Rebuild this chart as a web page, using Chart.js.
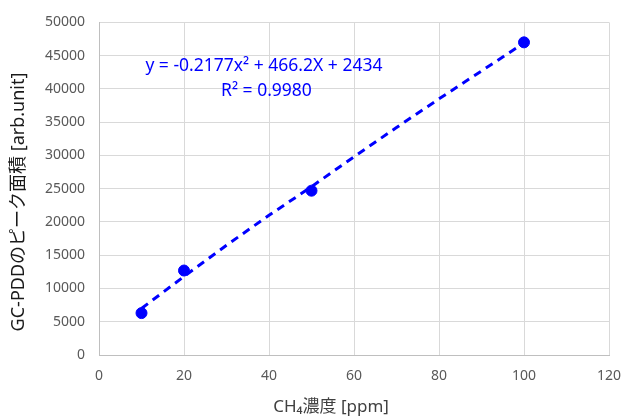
<!DOCTYPE html>
<html>
<head>
<meta charset="utf-8">
<script src="https://cdn.jsdelivr.net/npm/chart.js@4"></script>
<style>
  body { margin: 0; background: #fff; }
  #wrap { width: 623px; height: 419px; }
</style>
</head>
<body>
<div id="wrap"><canvas id="chartPdd" width="623" height="419"></canvas></div>
<script>
// measured points
const concPpm = [10, 20, 50, 100]
const peakArea = [6300, 12700, 24700, 47000]
// dashed trend line
const trendX = [10, 20, 30, 40, 50, 60, 70, 80, 90, 100]
const trendY = [7000, 11800, 16500, 21000, 25300, 29800, 34200, 38500, 42700, 46900]
const eqLines = ['y = -0.2177x² + 466.2X + 2434', 'R² = 0.9980']
const xTitle = 'CH₄濃度 [ppm]'
const yTitle = 'GC-PDDのピーク面積 [arb.unit]'

const blue = '#0000ff'
const mixFont = "'Noto Sans', 'Noto Sans CJK JP', sans-serif"

const eqLabel = {
    id: 'eqLabel',
    afterDatasetsDraw(chart) {
        const xs = chart.scales.x, ys = chart.scales.y, ctx = chart.ctx
        ctx.save()
        ctx.fillStyle = blue
        ctx.font = "17.5px " + mixFont
        ctx.textAlign = 'center'
        ctx.textBaseline = 'middle'
        ctx.fillText(eqLines[0], xs.getPixelForValue(38.8), ys.getPixelForValue(43400))
        ctx.fillText(eqLines[1], xs.getPixelForValue(39.4), ys.getPixelForValue(39700))
        // axis titles sit a little off centre in the original
        ctx.fillStyle = '#404040'
        ctx.font = "17px " + mixFont
        ctx.fillText(xTitle, xs.getPixelForValue(54.6), 407)
        ctx.fillStyle = '#1a1a1a'
        ctx.font = "18px " + mixFont
        ctx.translate(19, ys.getPixelForValue(23000))
        ctx.rotate(-Math.PI / 2)
        ctx.fillText(yTitle, 0, 0)
        ctx.restore()
    }
}

var ctxPdd = document.getElementById('chartPdd').getContext('2d');
var chartPdd = new Chart(ctxPdd, {
    type: 'scatter',
    data: {
        datasets: [{
            data: trendX.map((x, i) => ({ x: x, y: trendY[i] })),
            showLine: true,
            borderColor: blue,
            borderWidth: 3,
            borderDash: [8, 6],
            pointRadius: 0,
            fill: false
        }, {
            data: concPpm.map((x, i) => ({ x: x, y: peakArea[i] })),
            backgroundColor: blue,
            borderColor: blue,
            pointRadius: 5.5,
            pointHoverRadius: 5.5
        }]
    },
    options: {
        responsive: false,
        animation: false,
        layout: { padding: { top: 21, right: 14, left: 0, bottom: 0 } },
        plugins: { legend: { display: false }, tooltip: { enabled: false } },
        scales: {
            x: {
                type: 'linear',
                min: 0, max: 120,
                afterFit: s => { s.height = 64; s.paddingRight = 0; s.paddingLeft = 0 },
                ticks: { stepSize: 20, color: '#595959', font: { size: 14, family: mixFont }, padding: 13, callback: v => String(v) },
                grid: { color: '#d9d9d9', lineWidth: 1, drawTicks: false },
                border: { color: '#bfbfbf' }
            },
            y: {
                min: 0, max: 50000,
                afterFit: s => { s.width = 99 },
                ticks: { stepSize: 5000, color: '#595959', font: { size: 14, family: mixFont }, padding: 14, callback: v => String(v) },
                grid: { color: '#d9d9d9', lineWidth: 1, drawTicks: false },
                border: { color: '#bfbfbf' }
            }
        }
    },
    plugins: [eqLabel]
});
</script>
</body>
</html>
